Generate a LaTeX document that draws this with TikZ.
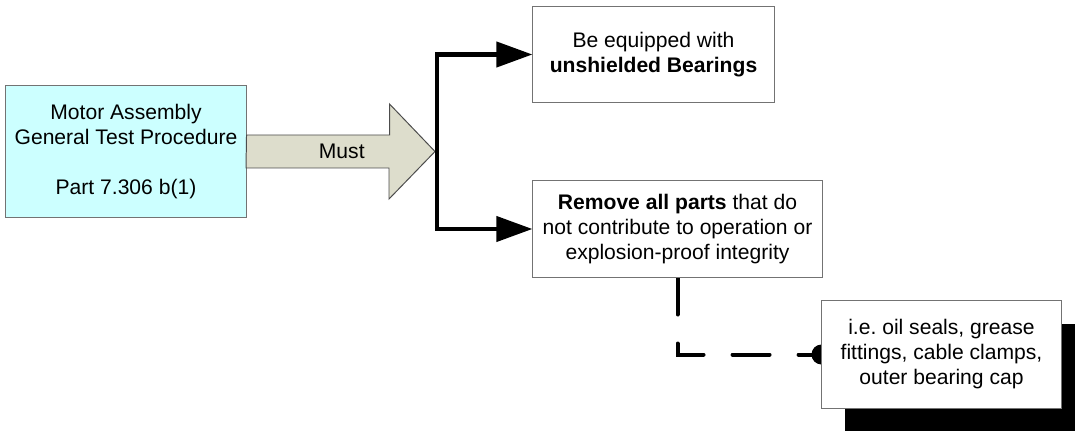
\documentclass[tikz,border=0pt]{standalone}
\usepackage{fontspec}
\setmainfont{Liberation Sans}
\usetikzlibrary{arrows.meta,shadows,backgrounds,calc}

\definecolor{procfill}{HTML}{CCFFFF}
\definecolor{mustfill}{HTML}{DDDDCC}

\begin{document}
\begin{tikzpicture}[x=0.025cm, y=-0.025cm,
  box/.style={draw=black!55, line width=0.7pt, fill=white, align=center, inner sep=0pt,
    font=\fontsize{15}{17.8}\selectfont},
  branch/.style={line width=0.115cm, -{Triangle[length=0.9cm,width=0.62cm]}},
  hint/.style={line width=0.1cm, line cap=round, dash pattern=on 0.925cm off 0.725cm}]

% anchor points for size
\useasboundingbox (0,0) rectangle (1075,432);

% procedure
\node[box, fill=procfill, minimum width=6cm, minimum height=3.275cm] (motor) at (126,151.5)
  {Motor Assembly\\General Test Procedure\\[17.8pt]Part 7.306 b(1)};

% bearings
\node[box, minimum width=6.025cm, minimum height=2.375cm] (equip) at (653.5,54.5)
  {Be equipped with\\\textbf{unshielded Bearings}};

% remove parts
\node[box, minimum width=7.225cm, minimum height=2.4cm] (remove) at (677.5,229)
  {\textbf{Remove all parts} that do\\not contribute to operation or\\explosion-proof integrity};

% examples, with shadow
\node[box, minimum width=5.975cm, minimum height=2.675cm,
  drop shadow={shadow xshift=0.575cm, shadow yshift=-0.575cm, fill=black, opacity=1}] (parts) at (941.5,354.5)
  {i.e.\ oil seals, grease\\fittings, cable clamps,\\outer bearing cap};

% split point
\coordinate (split) at (437,151.5);

% big arrow from procedure
\draw[fill=mustfill, draw=black!70, line width=0.7pt]
  ($(motor.east)+(0,-16.5)$) -- ++(143,0) -- ++(0,-31) -- ($(split)+(-2,0)$)
  -- ++(-46,47.5) -- ++(0,-31) -- ++(-143,0) -- cycle;
\node[font=\fontsize{15}{17.8}\selectfont] (must) at ($(motor.east)!0.5!(split)$) {Must};

% arrows to both boxes
\draw[branch] (split) |- (equip.west);
\draw[branch] (split) |- (remove.west);

% dashed line to examples
\begin{scope}[on background layer]
\draw[hint] (remove.south) |- (parts.west);
\fill (parts.west) circle (10);
\end{scope}

\end{tikzpicture}
\end{document}
